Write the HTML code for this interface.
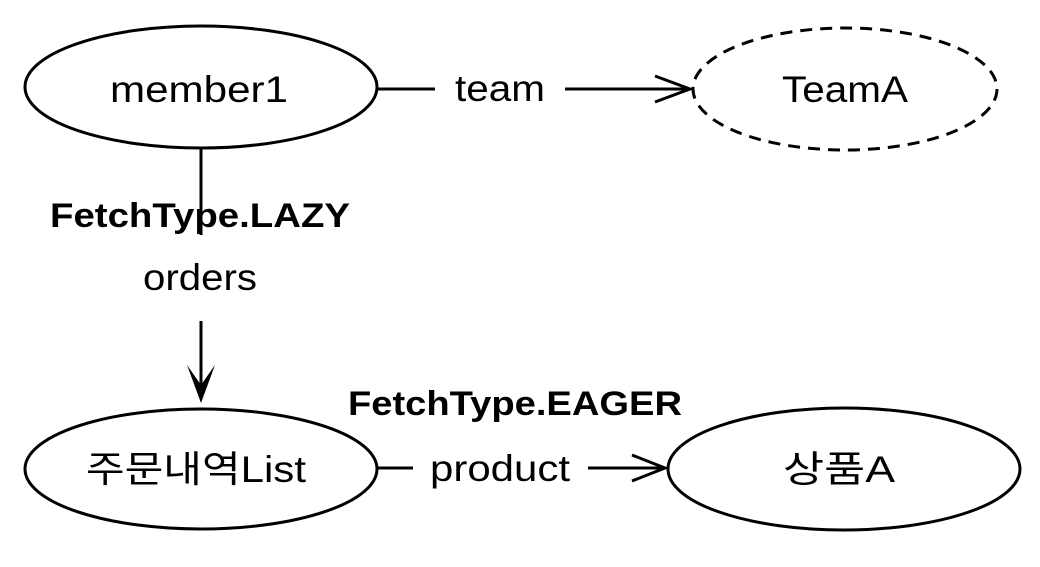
<!DOCTYPE html>
<html><head><meta charset="utf-8"><style>
html,body{margin:0;padding:0;background:#fff;}
svg text{font-family:"Liberation Sans","Noto Sans CJK KR",sans-serif;fill:#000;}
</style></head><body>
<svg width="1040" height="562" viewBox="0 0 1040 562" xmlns="http://www.w3.org/2000/svg">
<g fill="none" stroke="#000" stroke-width="3">
<ellipse cx="201" cy="87" rx="176" ry="61"/>
<ellipse cx="845" cy="89" rx="152" ry="61" stroke-dasharray="12,8"/>
<ellipse cx="201" cy="469" rx="176" ry="60"/>
<ellipse cx="844" cy="469" rx="176" ry="61"/>
<line x1="377" y1="89" x2="435" y2="89"/>
<line x1="565" y1="89" x2="688" y2="89"/>
<polyline points="655,76 690,89 655,102"/>
<line x1="201" y1="148" x2="201" y2="235"/>
<line x1="201" y1="321" x2="201" y2="395"/>
<line x1="377" y1="468" x2="413" y2="468"/>
<line x1="588" y1="468" x2="663" y2="468"/>
<polyline points="632,455 665,468 632,481"/>
</g>
<path d="M187,365 L201,403 L215,365 L201,385 Z" fill="#000"/>
<g font-size="37" lengthAdjust="spacingAndGlyphs">
<text x="110" y="102" textLength="178" lengthAdjust="spacingAndGlyphs">member1</text>
<text x="782" y="102" textLength="126" lengthAdjust="spacingAndGlyphs">TeamA</text>
<text x="455" y="101" textLength="90" lengthAdjust="spacingAndGlyphs">team</text>
<text x="143" y="290" textLength="114" lengthAdjust="spacingAndGlyphs">orders</text>
<text x="86" y="482" textLength="220" lengthAdjust="spacingAndGlyphs">주문내역List</text>
<text x="783" y="482" textLength="112" lengthAdjust="spacingAndGlyphs">상품A</text>
<text x="430" y="481" textLength="140" lengthAdjust="spacingAndGlyphs">product</text>
</g>
<g font-size="34" font-weight="bold" text-anchor="middle">
<text x="200" y="227" textLength="300" lengthAdjust="spacingAndGlyphs">FetchType.LAZY</text>
<text x="515" y="415" textLength="334" lengthAdjust="spacingAndGlyphs">FetchType.EAGER</text>
</g>
</svg>
</body></html>
